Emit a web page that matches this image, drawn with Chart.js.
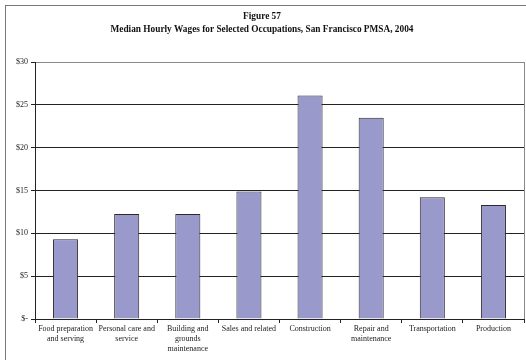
<!DOCTYPE html>
<html>
<head>
<meta charset="utf-8">
<script src="https://cdn.jsdelivr.net/npm/chart.js@4"></script>
<style>
  html, body { margin: 0; padding: 0; background: #fff; overflow: hidden; }
  #frame {
    position: absolute; left: 5px; top: 5px; width: 600px; height: 400px;
    border-left: 1px solid #777; border-top: 1px solid #777;
  }
  #wrap { position: absolute; left: 0; top: 0; width: 526px; height: 360px; }
</style>
</head>
<body>
<div id="frame"></div>
<div id="wrap"><canvas id="wage-chart" width="526" height="360"></canvas></div>
<script>
// ---- Data ----
const occupations = [
    ['Food preparation', 'and serving'],
    ['Personal care and', 'service'],
    ['Building and', 'grounds', 'maintenance'],
    'Sales and related',
    'Construction',
    ['Repair and', 'maintenance'],
    'Transportation',
    'Production'
];
const medianWages = [9.3, 12.25, 12.25, 14.9, 26.1, 23.5, 14.2, 13.3];
const wageTicks = [0, 5, 10, 15, 20, 25, 30];
const tickLabels = ['$-', '$5', '$10', '$15', '$20', '$25', '$30'];

const serif = '"Liberation Serif", "Times New Roman", serif';

// Gray border on the right side of the plot area
const plotBorder = {
    id: 'plotBorder',
    afterDraw: function (chart) {
        const a = chart.chartArea;
        const ctx = chart.ctx;
        ctx.save();
        ctx.strokeStyle = '#888';
        ctx.lineWidth = 1;
        ctx.beginPath();
        ctx.moveTo(Math.round(a.right) + 0.5, a.top);
        ctx.lineTo(Math.round(a.right) + 0.5, a.bottom);
        ctx.stroke();
        ctx.restore();
    }
};

const ctx = document.getElementById('wage-chart').getContext('2d');
new Chart(ctx, {
    type: 'bar',
    data: {
        labels: occupations,
        datasets: [{
            data: medianWages,
            backgroundColor: '#9999CC',
            borderColor: '#2a2a2a',
            borderWidth: 1,
            barPercentage: 0.41,
            categoryPercentage: 1
        }]
    },
    options: {
        responsive: false,
        animation: false,
        layout: { padding: { left: 0, right: 2, top: 0, bottom: 0 } },
        scales: {
            y: {
                min: 0,
                max: 30,
                afterBuildTicks: function (scale) {
                    scale.ticks = wageTicks.map(function (v) { return { value: v }; });
                },
                afterFit: function (scale) { scale.width = 35; },
                ticks: {
                    color: '#222',
                    font: { family: serif, size: 8 },
                    padding: 3,
                    callback: function (v) { return tickLabels[wageTicks.indexOf(v)]; }
                },
                grid: {
                    color: function (c) { return c.tick && c.tick.value === 30 ? '#888' : '#222'; },
                    tickLength: 4,
                    tickColor: '#222'
                },
                border: { color: '#222' }
            },
            x: {
                afterFit: function (scale) { scale.height = 41; },
                ticks: {
                    color: '#222',
                    font: { family: serif, size: 8, lineHeight: 1.25 },
                    padding: 1,
                    maxRotation: 0,
                    autoSkip: false
                },
                grid: {
                    offset: true,
                    drawOnChartArea: false,
                    tickLength: 4,
                    tickColor: '#222'
                },
                border: { color: '#222' }
            }
        },
        plugins: {
            legend: { display: false },
            tooltip: { enabled: false },
            title: {
                display: true,
                text: ['Figure 57', 'Median Hourly Wages for Selected Occupations, San Francisco PMSA, 2004'],
                color: '#111',
                font: { family: serif, size: 9.3, weight: 'bold', lineHeight: 1.4 },
                padding: { top: 10, bottom: 26 }
            }
        }
    },
    plugins: [plotBorder]
});
</script>
</body>
</html>
